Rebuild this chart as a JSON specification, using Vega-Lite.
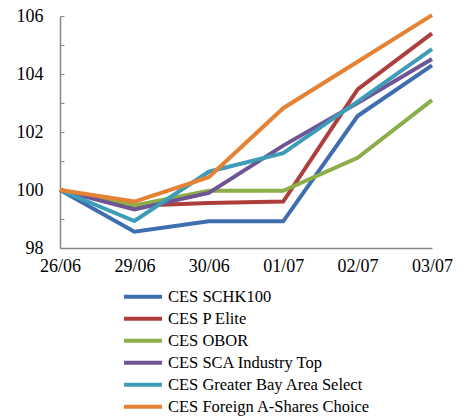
{
  "$schema": "https://vega.github.io/schema/vega-lite/v6.json",
  "autosize": {"type": "none"},
  "width": 372,
  "height": 232,
  "padding": {"left": 60, "top": 16, "right": 35, "bottom": 168},
  "background": "white",
  "config": {
    "font": "Liberation Serif",
    "view": {"stroke": null}
  },
  "data": {
    "values": [
      {"date": "26/06", "series": "CES SCHK100", "value": 100},
      {"date": "29/06", "series": "CES SCHK100", "value": 98.56},
      {"date": "30/06", "series": "CES SCHK100", "value": 98.92},
      {"date": "01/07", "series": "CES SCHK100", "value": 98.92},
      {"date": "02/07", "series": "CES SCHK100", "value": 102.55},
      {"date": "03/07", "series": "CES SCHK100", "value": 104.3},
      {"date": "26/06", "series": "CES P Elite", "value": 100},
      {"date": "29/06", "series": "CES P Elite", "value": 99.46},
      {"date": "30/06", "series": "CES P Elite", "value": 99.55},
      {"date": "01/07", "series": "CES P Elite", "value": 99.6},
      {"date": "02/07", "series": "CES P Elite", "value": 103.47},
      {"date": "03/07", "series": "CES P Elite", "value": 105.4},
      {"date": "26/06", "series": "CES OBOR", "value": 100},
      {"date": "29/06", "series": "CES OBOR", "value": 99.47},
      {"date": "30/06", "series": "CES OBOR", "value": 99.97},
      {"date": "01/07", "series": "CES OBOR", "value": 99.97},
      {"date": "02/07", "series": "CES OBOR", "value": 101.11},
      {"date": "03/07", "series": "CES OBOR", "value": 103.1},
      {"date": "26/06", "series": "CES SCA Industry Top", "value": 100},
      {"date": "29/06", "series": "CES SCA Industry Top", "value": 99.33},
      {"date": "30/06", "series": "CES SCA Industry Top", "value": 99.9},
      {"date": "01/07", "series": "CES SCA Industry Top", "value": 101.53},
      {"date": "02/07", "series": "CES SCA Industry Top", "value": 103.0},
      {"date": "03/07", "series": "CES SCA Industry Top", "value": 104.52},
      {"date": "26/06", "series": "CES Greater Bay Area Select", "value": 100},
      {"date": "29/06", "series": "CES Greater Bay Area Select", "value": 98.93},
      {"date": "30/06", "series": "CES Greater Bay Area Select", "value": 100.63},
      {"date": "01/07", "series": "CES Greater Bay Area Select", "value": 101.27},
      {"date": "02/07", "series": "CES Greater Bay Area Select", "value": 103.05},
      {"date": "03/07", "series": "CES Greater Bay Area Select", "value": 104.86},
      {"date": "26/06", "series": "CES Foreign A-Shares Choice", "value": 100},
      {"date": "29/06", "series": "CES Foreign A-Shares Choice", "value": 99.6},
      {"date": "30/06", "series": "CES Foreign A-Shares Choice", "value": 100.44},
      {"date": "01/07", "series": "CES Foreign A-Shares Choice", "value": 102.82},
      {"date": "02/07", "series": "CES Foreign A-Shares Choice", "value": 104.42},
      {"date": "03/07", "series": "CES Foreign A-Shares Choice", "value": 106.03}
    ]
  },
  "mark": {"type": "line", "strokeWidth": 4, "clip": false},
  "encoding": {
    "x": {
      "field": "date",
      "type": "ordinal",
      "sort": null,
      "scale": {"type": "point", "padding": 0},
      "axis": {
        "title": null,
        "labelAngle": 0,
        "labelFont": "Liberation Serif",
        "labelFontSize": 18,
        "labelColor": "black",
        "labelPadding": 9,
        "ticks": false,
        "domainColor": "#868686",
        "domainWidth": 1.5,
        "labelFlush": false
      }
    },
    "y": {
      "field": "value",
      "type": "quantitative",
      "scale": {"domain": [98, 106], "nice": false, "zero": false},
      "axis": {
        "title": null,
        "values": [98, 99, 100, 101, 102, 103, 104, 105, 106],
        "labelExpr": "datum.value % 2 == 0 ? datum.label : ''",
        "labelFont": "Liberation Serif",
        "labelFontSize": 18,
        "labelColor": "black",
        "grid": false,
        "tickSize": -4,
        "tickColor": "#868686",
        "labelPadding": 21,
        "domainColor": "#868686",
        "domainWidth": 1.5
      }
    },
    "color": {
      "field": "series",
      "type": "nominal",
      "sort": ["CES SCHK100", "CES P Elite", "CES OBOR", "CES SCA Industry Top", "CES Greater Bay Area Select", "CES Foreign A-Shares Choice"],
      "scale": {
        "domain": ["CES SCHK100", "CES P Elite", "CES OBOR", "CES SCA Industry Top", "CES Greater Bay Area Select", "CES Foreign A-Shares Choice"],
        "range": ["#3E6EAF", "#AE3E3B", "#8BAE48", "#6E5593", "#3D9CB8", "#E58233"]
      },
      "legend": {
        "title": null,
        "orient": "none",
        "legendX": 62,
        "legendY": 270,
        "symbolType": "stroke",
        "symbolSize": 1444,
        "symbolStrokeWidth": 4,
        "labelFont": "Liberation Serif",
        "labelFontSize": 16.5,
        "labelLimit": 400,
        "labelColor": "black",
        "labelOffset": 4,
        "rowPadding": 0,
        "clipHeight": 21.5
      }
    }
  }
}
